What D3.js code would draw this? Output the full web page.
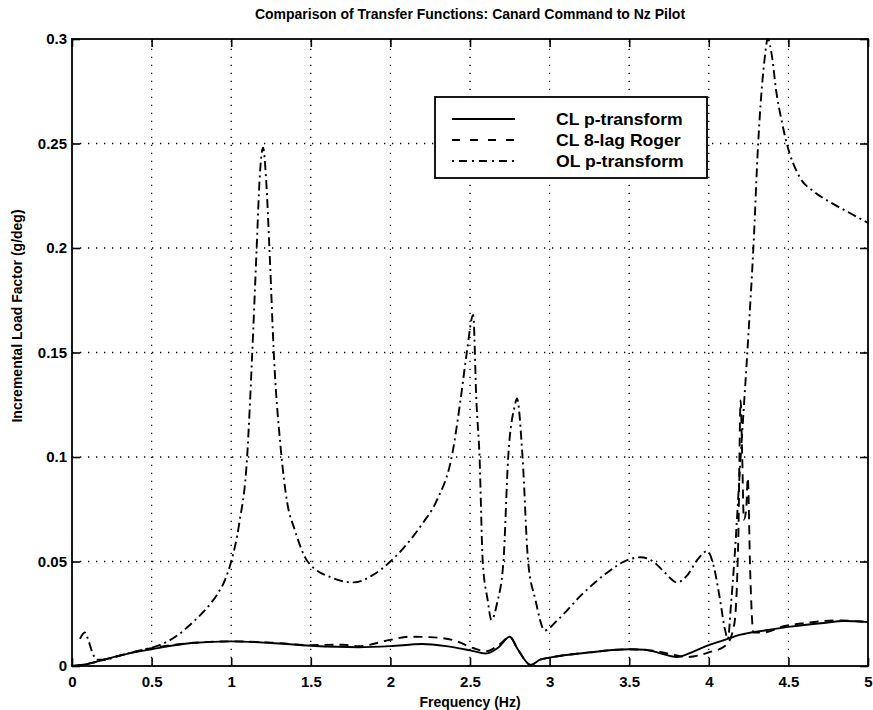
<!DOCTYPE html>
<html><head><meta charset="utf-8">
<script src="https://cdn.jsdelivr.net/npm/d3@7"></script>
<style>body{margin:0;background:#fff}</style>
</head><body><svg id="c" width="873" height="710"></svg>
<script>
const titleText = "Comparison of Transfer Functions: Canard Command to Nz Pilot";
const xLabel = "Frequency (Hz)";
const yLabel = "Incremental Load Factor (g/deg)";
const xTicks = [0,0.5,1,1.5,2,2.5,3,3.5,4,4.5,5];
const yTicks = [0,0.05,0.1,0.15,0.2,0.25,0.3];
const seriesNames = ["CL p-transform","CL 8-lag Roger","OL p-transform"];

const clFreq = [0,0.1,0.2,0.3,0.5,0.75,1.0,1.25,1.5,1.8,2.0,2.2,2.35,2.5,2.6,2.68,2.75,2.8,2.88,2.94,3.0,3.25,3.5,3.6,3.7,3.8,3.9,4.0,4.1,4.2,4.35,4.5,4.72,4.85,5.0];
const clVal  = [0,0.001,0.003,0.005,0.008,0.011,0.0118,0.011,0.0097,0.009,0.0095,0.0105,0.0095,0.0075,0.006,0.009,0.014,0.008,0.0005,0.003,0.004,0.0065,0.008,0.0078,0.006,0.0043,0.0068,0.010,0.0125,0.015,0.017,0.0187,0.0206,0.0215,0.021];

const rgFreq = [0,0.1,0.2,0.3,0.5,0.75,1.0,1.25,1.5,1.7,1.8,2.0,2.12,2.25,2.39,2.52,2.6,2.68,2.75,2.8,2.88,2.94,3.0,3.25,3.5,3.68,3.8,3.86,4.0,4.11,4.16,4.185,4.2,4.21,4.22,4.235,4.245,4.26,4.28,4.34,4.47,4.6,4.8,5.0];
const rgVal  = [0,0.001,0.003,0.005,0.0085,0.011,0.0118,0.0112,0.010,0.0102,0.0095,0.0125,0.014,0.0138,0.0125,0.0086,0.007,0.01,0.014,0.008,0.0005,0.003,0.004,0.0065,0.008,0.007,0.005,0.0043,0.0065,0.010,0.02,0.06,0.127,0.10,0.07,0.075,0.09,0.045,0.016,0.016,0.019,0.0205,0.0218,0.021];

const olFreq = [0.05,0.08,0.1,0.13,0.16,0.2,0.3,0.4,0.55,0.65,0.76,0.85,0.91,0.96,1.0,1.05,1.1,1.13,1.16,1.18,1.2,1.22,1.24,1.27,1.31,1.35,1.4,1.48,1.64,1.77,1.9,2.0,2.1,2.2,2.29,2.39,2.44,2.48,2.52,2.54,2.56,2.58,2.61,2.635,2.67,2.71,2.74,2.78,2.795,2.83,2.865,2.91,2.97,3.05,3.2,3.35,3.5,3.57,3.65,3.72,3.8,3.86,3.93,3.99,4.03,4.07,4.1,4.12,4.14,4.16,4.2,4.25,4.28,4.31,4.35,4.37,4.4,4.42,4.46,4.49,4.57,4.66,4.76,4.88,5.0];
const olVal  = [0.013,0.016,0.013,0.006,0.003,0.003,0.005,0.007,0.010,0.014,0.021,0.028,0.034,0.041,0.05,0.068,0.10,0.146,0.2,0.235,0.248,0.232,0.2,0.146,0.105,0.079,0.065,0.05,0.042,0.040,0.044,0.05,0.058,0.068,0.079,0.102,0.127,0.15,0.168,0.127,0.1,0.05,0.032,0.022,0.03,0.05,0.1,0.124,0.128,0.1,0.05,0.032,0.017,0.022,0.034,0.044,0.051,0.052,0.050,0.045,0.040,0.043,0.051,0.055,0.048,0.032,0.018,0.013,0.03,0.05,0.1,0.16,0.2,0.25,0.29,0.3,0.29,0.277,0.26,0.25,0.234,0.227,0.222,0.217,0.212];

const W=873,H=710;
const m={l:72,r:868,t:39,b:666};
const svg=d3.select("#c");
const x=d3.scaleLinear().domain([0,5]).range([m.l,m.r]);
const y=d3.scaleLinear().domain([0,0.3]).range([m.b,m.t]);
const font="'Liberation Sans', Arial, Helvetica, sans-serif";

svg.append("rect").attr("width",W).attr("height",H).attr("fill","#fff");

// grid
const grid=svg.append("g").attr("stroke","#000").attr("stroke-width",1.3).attr("stroke-dasharray","1.3,6.7");
xTicks.slice(1,-1).forEach(v=>grid.append("line").attr("x1",x(v)).attr("x2",x(v)).attr("y1",m.b).attr("y2",m.t));
yTicks.slice(1,-1).forEach(v=>grid.append("line").attr("x1",m.l).attr("x2",m.r).attr("y1",y(v)).attr("y2",y(v)));

// axes with inward ticks
const tl=8;
const gb=svg.append("g").attr("transform",`translate(0,${m.b})`).call(d3.axisBottom(x).tickValues(xTicks).tickSize(-tl).tickPadding(10).tickFormat(d3.format("")));
const gt=svg.append("g").attr("transform",`translate(0,${m.t})`).call(d3.axisTop(x).tickValues(xTicks).tickSize(-tl).tickFormat(""));
const gl=svg.append("g").attr("transform",`translate(${m.l},0)`).call(d3.axisLeft(y).tickValues(yTicks).tickSize(-tl).tickPadding(5).tickFormat(d3.format("")));
const gr=svg.append("g").attr("transform",`translate(${m.r},0)`).call(d3.axisRight(y).tickValues(yTicks).tickSize(-tl).tickFormat(""));
[gb,gt,gl,gr].forEach(g=>{g.select(".domain").remove();g.selectAll("line").attr("stroke","#000").attr("stroke-width",1.6);
  g.selectAll("text").attr("font-family",font).attr("font-size",15).attr("font-weight","bold").attr("fill","#000");});
svg.append("rect").attr("x",m.l).attr("y",m.t).attr("width",m.r-m.l).attr("height",m.b-m.t).attr("fill","none").attr("stroke","#000").attr("stroke-width",1.8);

// lines
svg.append("clipPath").attr("id","cp").append("rect").attr("x",m.l).attr("y",m.t-1).attr("width",m.r-m.l).attr("height",m.b-m.t+1);
const line=d3.line().x(d=>x(d[0])).y(d=>y(d[1])).curve(d3.curveMonotoneX);
const styles=[{da:null,lda:null},{da:"9,6",lda:"8,10"},{da:"9,4,2,4",lda:"2,5,8,5"}];
const data=[d3.zip(clFreq,clVal),d3.zip(rgFreq,rgVal),d3.zip(olFreq,olVal)];
const lg=svg.append("g").attr("clip-path","url(#cp)");
[0,1,2].forEach(i=>{
  lg.append("path").attr("d",line(data[i])).attr("fill","none").attr("stroke","#000").attr("stroke-width",1.9)
    .attr("stroke-dasharray",styles[i].da);
});

// legend
const leg=svg.append("g");
leg.append("rect").attr("x",435).attr("y",97).attr("width",272).attr("height",81).attr("fill","#fff").attr("stroke","#000").attr("stroke-width",1.8);
seriesNames.forEach((n,i)=>{
  const yy=119+i*21;
  leg.append("line").attr("x1",452).attr("x2",515).attr("y1",yy).attr("y2",yy).attr("stroke","#000").attr("stroke-width",1.9).attr("stroke-dasharray",styles[i].lda);
  leg.append("text").attr("x",556).attr("y",yy+6).text(n).attr("font-family",font).attr("font-size",16).attr("font-weight","bold").attr("transform",`translate(556,0) scale(1.1,1) translate(-556,0)`);
});

// titles
svg.append("text").attr("x",(m.l+m.r)/2).attr("y",19).attr("text-anchor","middle").text(titleText).attr("font-family",font).attr("font-size",14).attr("font-weight","bold");
svg.append("text").attr("x",(m.l+m.r)/2).attr("y",707).attr("text-anchor","middle").text(xLabel).attr("font-family",font).attr("font-size",14).attr("font-weight","bold");
svg.append("text").attr("transform",`translate(22,316) rotate(-90)`).attr("text-anchor","middle").text(yLabel).attr("font-family",font).attr("font-size",14).attr("font-weight","bold");
</script></body></html>
